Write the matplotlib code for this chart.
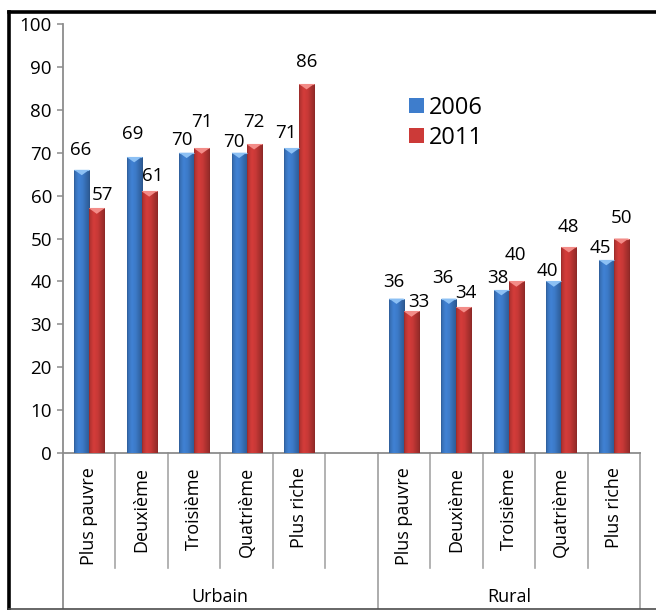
import numpy as np
import matplotlib
matplotlib.use("Agg")
import matplotlib.pyplot as plt
from matplotlib.lines import Line2D
from matplotlib.patches import Polygon
import matplotlib.transforms as mtransforms

plt.rcParams['font.family'] = ['Open Sans', 'DejaVu Sans']

# ---- data ----
quintiles = ["Plus pauvre", "Deuxième", "Troisième", "Quatrième", "Plus riche"]
groups = ["Urbain", "Rural"]
urbain_2006 = [66, 69, 70, 70, 71]
urbain_2011 = [57, 61, 71, 72, 86]
rural_2006 = [36, 36, 38, 40, 45]
rural_2011 = [33, 34, 40, 48, 50]
series_names = ["2006", "2011"]
y_ticks = [0, 10, 20, 30, 40, 50, 60, 70, 80, 90, 100]

# label nudges in pixels (dx, height of label centre above bar top)
lab_off_2006 = [(-1, 22), (-1, 24.5), (-5, 14.5), (-5, 12.5), (-5.5, 17.5),
                (-2.5, 18), (-6, 22), (-3, 14), (-6, 12), (-6, 14)]
lab_off_2011 = [(6, 15), (4, 17), (0, 28.5), (0, 24), (0, 23.5),
                (7.5, 11), (1.5, 15.5), (-1, 28), (0, 22), (0, 22)]

# slot positions: five urban quintiles, one empty slot, five rural quintiles
n = len(quintiles)
x_urb = np.arange(n)
x_rur = np.arange(n) + n + 1
x_all = np.concatenate([x_urb, x_rur])
v2006 = urbain_2006 + rural_2006
v2011 = urbain_2011 + rural_2011

W, H, DPI = 656, 610, 100
fig = plt.figure(figsize=(W / DPI, H / DPI), dpi=DPI)
fig.patch.set_facecolor("white")
ax = fig.add_axes([63 / W, 157 / H, 577 / W, 429 / H])

bw = 0.286
blue = np.array([62, 125, 204]) / 255
red = np.array([204, 58, 56]) / 255
blue_top = "#8cc0f4"
red_top = "#f38c88"

b1 = ax.bar(x_all - bw / 2, v2006, bw, color=blue, edgecolor="none",
            label=series_names[0], zorder=2)
b2 = ax.bar(x_all + bw / 2, v2011, bw, color=red, edgecolor="none",
            label=series_names[1], zorder=2)

# horizontal shading across each bar to give a rounded look
t = np.linspace(0, 1, 64)
prof = np.interp(t, [0, 0.08, 0.3, 0.55, 0.8, 0.95, 1.0],
                 [0.72, 0.9, 1.04, 0.98, 0.82, 0.74, 0.66])


def shade(bars, base, top_col):
    grad = np.clip(base[None, None, :] * prof[None, :, None], 0, 1)
    for p in bars.patches:
        x0, w, h = p.get_x(), p.get_width(), p.get_height()
        im = ax.imshow(grad, extent=[x0, x0 + w, 0, h], aspect="auto",
                       interpolation="bilinear", zorder=3)
        im.set_clip_path(p)
        bev = 1.25
        tri = Polygon([[x0, h], [x0 + w, h], [x0 + w / 2, h - bev]],
                      closed=True, facecolor=top_col, edgecolor="none",
                      zorder=4)
        ax.add_patch(tri)
        ax.plot([x0, x0 + w], [h, h], color=top_col, lw=0.8, zorder=4,
                solid_capstyle="butt")


shade(b1, blue, blue_top)
shade(b2, red, red_top)

# value labels
for bars, vals, offs in ((b1, v2006, lab_off_2006), (b2, v2011, lab_off_2011)):
    for p, v, (dx, dy) in zip(bars.patches, vals, offs):
        ax.annotate(str(v), xy=(p.get_x() + p.get_width() / 2, v),
                    xytext=(dx, dy - 6.8), textcoords="offset pixels",
                    ha="center", va="baseline", fontsize=13.5, color="black",
                    zorder=5)

ax.set_xlim(-0.5, 2 * n + 0.5)
ax.set_ylim(0, 100)
ax.set_yticks(y_ticks)
ax.set_xticks([])

axis_gray = "#8c8c8c"
for s in ("top", "right"):
    ax.spines[s].set_visible(False)
ax.spines["left"].set_color(axis_gray)
ax.spines["left"].set_linewidth(1.3)
ax.spines["bottom"].set_color(axis_gray)
ax.spines["bottom"].set_linewidth(1.3)
ax.tick_params(axis="y", length=4, width=1.1, color=axis_gray, pad=4,
               labelsize=13.5, labelcolor="black")

# category axis: rotated quintile labels, separators and group names
trans = mtransforms.blended_transform_factory(ax.transData, ax.transAxes)
y_lab = -0.033
y_short = -0.268
y_long = -0.362
for xs in (x_urb, x_rur):
    for xi, q in zip(xs, quintiles):
        ax.text(xi, y_lab, q, rotation=90, ha="center", va="top",
                fontsize=13, transform=trans)
sep_short = list(x_urb + 0.5) + list(x_rur[:-1] + 0.5)
sep_long = [-0.5, n + 0.5, 2 * n + 0.5]
for xs in sep_short:
    ax.plot([xs, xs], [0, y_short], transform=trans, color="#a6a6a6",
            lw=1.2, clip_on=False)
for xs in sep_long:
    ax.plot([xs, xs], [0, y_long], transform=trans,
            color=axis_gray if xs < 0 else "#a6a6a6", lw=1.3, clip_on=False)
ax.text((x_urb[0] - 0.5 + n + 0.5) / 2, -0.336, groups[0], ha="center",
        va="center", fontsize=13, transform=trans)
ax.text((x_rur[0] + x_rur[-1]) / 2, -0.336, groups[1], ha="center",
        va="center", fontsize=13, transform=trans)

# legend
leg = ax.legend(handles=[b1, b2], loc="upper left",
                bbox_to_anchor=(0.5997, 0.832), frameon=False, fontsize=17,
                handlelength=0.62, handleheight=0.62, handletextpad=0.2,
                labelspacing=0.25, borderpad=0, borderaxespad=0)

# outer frame of the chart area
fig.add_artist(Line2D([8.5 / W, 1], [1 - 11.5 / H, 1 - 11.5 / H],
                      color="black", lw=2.6, transform=fig.transFigure))
fig.add_artist(Line2D([8.5 / W, 8.5 / W], [0, 1 - 11.5 / H],
                      color="black", lw=2.6, transform=fig.transFigure))
fig.add_artist(Line2D([8.5 / W, 1], [1.2 / H, 1.2 / H],
                      color="#4d4d4d", lw=1.2, transform=fig.transFigure))

fig.savefig("out.png", dpi=DPI, facecolor="white")
